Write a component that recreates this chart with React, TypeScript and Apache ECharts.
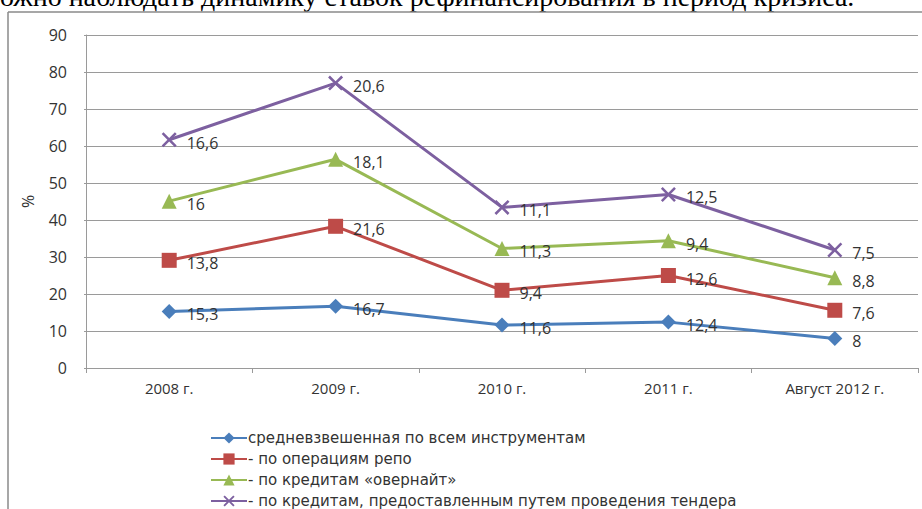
import React, { useEffect, useRef } from "react";
import * as echarts from "echarts";

const categories = ["2008 г.", "2009 г.", "2010 г.", "2011 г.", "Август 2012 г."];
const seriesNames = [
  "средневзвешенная по всем инструментам",
  "- по операциям репо",
  "- по кредитам «овернайт»",
  "- по кредитам, предоставленным путем проведения тендера",
];
const avgAll = [15.3, 16.7, 11.6, 12.4, 8];
const repo = [13.8, 21.6, 9.4, 12.6, 7.6];
const overnight = [16, 18.1, 11.3, 9.4, 8.8];
const tender = [16.6, 20.6, 11.1, 12.5, 7.5];
const colors = ["#4A7EBB", "#BE4B48", "#98B954", "#7D60A0"];
const headerText = "ожно наблюдать динамику ставок рефинансирования в период кризиса.";

const crossPath =
  "path://M0,1.2L1.2,0L5,3.8L8.8,0L10,1.2L6.2,5L10,8.8L8.8,10L5,6.2L1.2,10L0,8.8L3.8,5Z";
const symbols = ["diamond", "rect", "triangle", crossPath];
const sizes = [15, 15, 15, 15];

export default function App() {
  const ref = useRef<HTMLDivElement>(null);
  useEffect(() => {
    if (!ref.current) return;
    const chart = echarts.init(ref.current, undefined, { renderer: "svg" });
    const datasets = [avgAll, repo, overnight, tender];
    const fmt = (p: any) => String(p.value).replace(".", ",");
    chart.setOption({
      animation: false,
      textStyle: { fontFamily: "Open Sans" },
      graphic: [
        {
          type: "text",
          left: 0,
          top: -18,
          style: {
            text: headerText,
            font: "28px 'Liberation Serif'",
            fill: "#000",
          },
        },
        {
          type: "line",
          shape: { x1: 8, y1: 12, x2: 922, y2: 12 },
          style: { stroke: "#8a8a8a", lineWidth: 1.5 },
        },
        {
          type: "line",
          shape: { x1: 8, y1: 12, x2: 8, y2: 509 },
          style: { stroke: "#8a8a8a", lineWidth: 1.5 },
        },
      ],
      grid: { left: 86, right: 4, top: 35, bottom: 141, containLabel: false },
      xAxis: {
        type: "category",
        data: categories,
        boundaryGap: true,
        axisLine: { lineStyle: { color: "#9a9a9a" } },
        axisTick: { show: true, length: 5, lineStyle: { color: "#9a9a9a" } },
        axisLabel: {
          color: "#333",
          fontSize: 15,
          margin: 12,
        },
      },
      yAxis: {
        type: "value",
        min: 0,
        max: 90,
        interval: 10,
        name: "%",
        nameLocation: "middle",
        nameGap: 50,
        nameRotate: 90,
        nameTextStyle: { color: "#333", fontSize: 16 },
        axisLine: { show: true, lineStyle: { color: "#9a9a9a" } },
        axisTick: { show: true, length: 2, lineStyle: { color: "#9a9a9a" } },
        axisLabel: { color: "#333", fontSize: 16, margin: 19 },
        splitLine: { lineStyle: { color: "#9a9a9a" } },
      },
      legend: {
        orient: "vertical",
        left: 205,
        top: 424,
        height: 90,
        itemGap: 3,
        itemWidth: 36,
        itemHeight: 14,
        textStyle: {
          color: "#333",
          fontSize: 15,
          fontFamily: "DejaVu Sans",
          lineHeight: 18,
          padding: [0, 0, 0, -4],
        },
        data: seriesNames,
      },
      series: datasets.map((d, i) => ({
        name: seriesNames[i],
        type: "line",
        stack: "total",
        data: d,
        symbol: symbols[i],
        symbolSize: sizes[i],
        color: colors[i],
        lineStyle: { width: 3, color: colors[i] },
        itemStyle: { color: colors[i] },
        label: {
          show: true,
          position: "right",
          distance: 10,
          offset: [0, 3],
          formatter: fmt,
          color: "#333",
          fontSize: 16,
        },
      })),
    });
    return () => chart.dispose();
  }, []);
  return (
    <div
      ref={ref}
      style={{ position: "fixed", left: 0, top: 0, width: 922, height: 509, background: "#fff" }}
    />
  );
}
